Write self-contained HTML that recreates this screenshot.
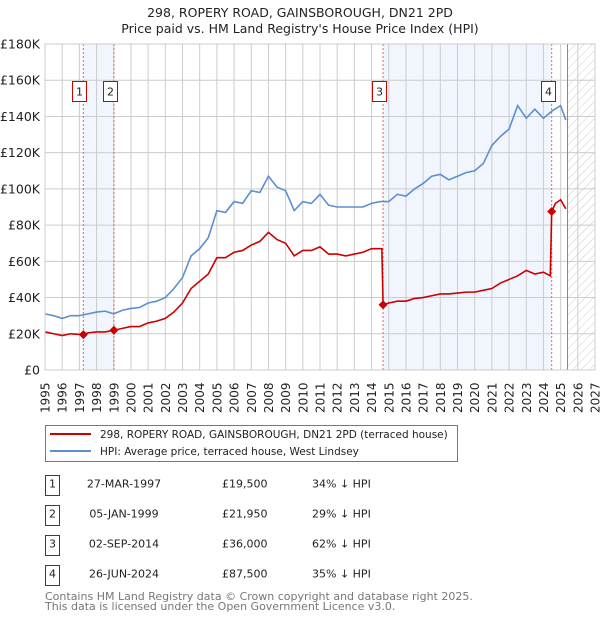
<!DOCTYPE html>
<html><head><meta charset="utf-8">
<style>
body{margin:0;background:#fff;font-family:"DejaVu Sans","Liberation Sans",sans-serif;}
#wrap{position:relative;width:600px;height:620px;overflow:hidden;}
</style></head>
<body>
<div id="wrap">
<svg id="chart" width="600" height="620" xmlns="http://www.w3.org/2000/svg" font-family="DejaVu Sans, Liberation Sans, sans-serif">
<text x="300" y="17" text-anchor="middle" font-size="12.5" fill="#222">298, ROPERY ROAD, GAINSBOROUGH, DN21 2PD</text>
<text x="300" y="33" text-anchor="middle" font-size="12.5" fill="#222">Price paid vs. HM Land Registry's House Price Index (HPI)</text>
<defs><pattern id="hatch" width="6" height="6" patternUnits="userSpaceOnUse" patternTransform="rotate(45)"><line x1="0" y1="0" x2="0" y2="6" stroke="#ccc" stroke-width="1"/></pattern></defs>
<g id="bg"></g><g id="grid"></g><g id="marks"></g><g id="axes"></g>
<rect x="45.5" y="425.5" width="412" height="36" fill="#fff" stroke="#777"/>
<line x1="50" y1="434" x2="91" y2="434" stroke="#cc0000" stroke-width="2"/>
<text x="100" y="438" font-size="10.5" fill="#222">298, ROPERY ROAD, GAINSBOROUGH, DN21 2PD (terraced house)</text>
<line x1="50" y1="451" x2="91" y2="451" stroke="#5b8fd0" stroke-width="2"/>
<text x="100" y="455" font-size="10.5" fill="#222">HPI: Average price, terraced house, West Lindsey</text>
<g id="table" font-size="11" fill="#222"></g>
<text x="45" y="600" font-size="11" fill="#777">Contains HM Land Registry data © Crown copyright and database right 2025.</text>
<text x="45" y="610" font-size="11" fill="#777">This data is licensed under the Open Government Licence v3.0.</text>
</svg>
</div>
<script>
const hpiYears=[1995,1995.5,1996,1996.5,1997,1997.5,1998,1998.5,1999,1999.5,2000,2000.5,2001,2001.5,2002,2002.5,2003,2003.5,2004,2004.5,2005,2005.5,2006,2006.5,2007,2007.5,2008,2008.5,2009,2009.5,2010,2010.5,2011,2011.5,2012,2012.5,2013,2013.5,2014,2014.5,2015,2015.5,2016,2016.5,2017,2017.5,2018,2018.5,2019,2019.5,2020,2020.5,2021,2021.5,2022,2022.5,2023,2023.5,2024,2024.5,2025,2025.3];
const hpiValues=[31,30,28.5,30,30,31,32,32.5,31,33,34,34.5,37,38,40,45,51,63,67,73,88,87,93,92,99,98,107,101,99,88,93,92,97,91,90,90,90,90,92,93,93,97,96,100,103,107,108,105,107,109,110,114,124,129,133,146,139,144,139,143,146,138];
const ppYears=[1995,1995.5,1996,1996.5,1997.23,1997.5,1998,1998.5,1999.01,1999.5,2000,2000.5,2001,2001.5,2002,2002.5,2003,2003.5,2004,2004.5,2005,2005.5,2006,2006.5,2007,2007.5,2008,2008.5,2009,2009.5,2010,2010.5,2011,2011.5,2012,2012.5,2013,2013.5,2014,2014.6,2014.67,2015,2015.5,2016,2016.5,2017,2017.5,2018,2018.5,2019,2019.5,2020,2020.5,2021,2021.5,2022,2022.5,2023,2023.5,2024,2024.4,2024.48,2024.7,2025,2025.3];
const ppValues=[21,20,19,20,19.5,20.5,21,21,21.95,23,24,24,26,27,28.5,32,37,45,49,53,62,62,65,66,69,71,76,72,70,63,66,66,68,64,64,63,64,65,67,67,36,37,38,38,39.5,40,41,42,42,42.5,43,43,44,45,48,50,52,55,53,54,52,87.5,92,94,89];
const saleYears=[1997.23,1999.01,2014.67,2024.48];
const saleValues=[19.5,21.95,36,87.5];
const saleLabels=["1","2","3","4"];
const saleDates=["27-MAR-1997","05-JAN-1999","02-SEP-2014","26-JUN-2024"];
const salePrices=["£19,500","£21,950","£36,000","£87,500"];
const saleDiffs=["34% ↓ HPI","29% ↓ HPI","62% ↓ HPI","35% ↓ HPI"];
const yTicks=[0,20,40,60,80,100,120,140,160,180];
const yTickLabels=["£0","£20K","£40K","£60K","£80K","£100K","£120K","£140K","£160K","£180K"];
const xTicks=[1995,1996,1997,1998,1999,2000,2001,2002,2003,2004,2005,2006,2007,2008,2009,2010,2011,2012,2013,2014,2015,2016,2017,2018,2019,2020,2021,2022,2023,2024,2025,2026,2027];

const NS="http://www.w3.org/2000/svg";
const X0=45,X1=595,Y0=370,Y1=44;
const xs=y=>X0+(y-1995)*(X1-X0)/32;
const ys=v=>Y0-v*(Y0-Y1)/180;
function mk(parent,tag,attrs){const e=document.createElementNS(NS,tag);for(const k in attrs)e.setAttribute(k,attrs[k]);document.getElementById(parent).appendChild(e);return e;}

let e;
e=mk('bg','rect',{x:xs(1997.23),y:Y1,width:xs(1999.01)-xs(1997.23),height:Y0-Y1,fill:'#eef3fd',opacity:0.8});


e=mk('bg','rect',{x:xs(2014.67),y:Y1,width:xs(2024.48)-xs(2014.67),height:Y0-Y1,fill:'#eef3fd',opacity:0.8});


e=mk('bg','rect',{x:xs(2025.4),y:Y1,width:X1-xs(2025.4),height:Y0-Y1,fill:'url(#hatch)'});



xTicks.forEach(t=>{
 e=mk('grid','line',{x1:xs(t),x2:xs(t),y1:Y1,y2:Y0,stroke:'#ccc','stroke-width':1});
 
 
 e=mk('axes','text',{x:0,y:0,transform:`translate(${xs(t)+4.5},${413}) rotate(-90)`,'font-size':12,fill:'#222'});
 e.textContent=t;
 
 
});
yTicks.forEach((t,i)=>{
 e=mk('grid','line',{x1:X0,x2:X1,y1:ys(t),y2:ys(t),stroke:'#ccc','stroke-width':1});
 
 
 e=mk('axes','text',{x:40,y:ys(t)+4.5,'text-anchor':'end','font-size':12.5,fill:'#222'});
 e.textContent=yTickLabels[i];
 
 
});
e=mk('grid','line',{x1:xs(2025.4),x2:xs(2025.4),y1:Y1,y2:Y0,stroke:'#888','stroke-width':1});



saleYears.forEach((s,i)=>{
 e=mk('grid','line',{x1:xs(s),x2:xs(s),y1:Y1,y2:Y0,stroke:'#f06060','stroke-width':1,'stroke-dasharray':'2,2'});
 
 
});

e=mk('marks','polyline',{points:hpiYears.map((y,i)=>xs(y)+','+ys(hpiValues[i])).join(' '),fill:'none',stroke:'#5b8fd0','stroke-width':1.6});


e=mk('marks','polyline',{points:ppYears.map((y,i)=>xs(y)+','+ys(ppValues[i])).join(' '),fill:'none',stroke:'#cc0000','stroke-width':1.6});



saleYears.forEach((s,i)=>{
 const cx=xs(s),cy=ys(saleValues[i]);
 e=mk('marks','polygon',{points:`${cx},${cy-4.5} ${cx+4.5},${cy} ${cx},${cy+4.5} ${cx-4.5},${cy}`,fill:'#cc0000'});
 
 
 const bx=Math.round(cx)-10.5;
 e=mk('marks','rect',{x:bx,y:81.5,width:14,height:20,fill:'#fff',stroke:'#cc0000','stroke-width':1});
 
 
 e=mk('marks','text',{x:bx+7,y:95.5,'text-anchor':'middle','font-size':11,fill:'#222'});
 e.textContent=saleLabels[i];
 
 
});

e=mk('axes','rect',{x:X0,y:Y1,width:X1-X0,height:Y0-Y1,fill:'none',stroke:'#ccc'});



const rowY=[475.5,505.5,535.5,565.5];
saleLabels.forEach((l,i)=>{
 e=mk('table','rect',{x:45.5,y:rowY[i],width:14,height:20,fill:'#fff',stroke:'#cc0000'});
 
 
 e=mk('table','text',{x:52.5,y:rowY[i]+12});e.setAttribute('text-anchor','middle');e.textContent=l;
 
 
 e=mk('table','text',{x:124,y:rowY[i]+12,'text-anchor':'middle'});e.textContent=saleDates[i];
 
 
 e=mk('table','text',{x:222,y:rowY[i]+12});e.textContent=salePrices[i];
 
 
 e=mk('table','text',{x:312,y:rowY[i]+12});e.textContent=saleDiffs[i];
 
 
});
</script>
</body></html>
